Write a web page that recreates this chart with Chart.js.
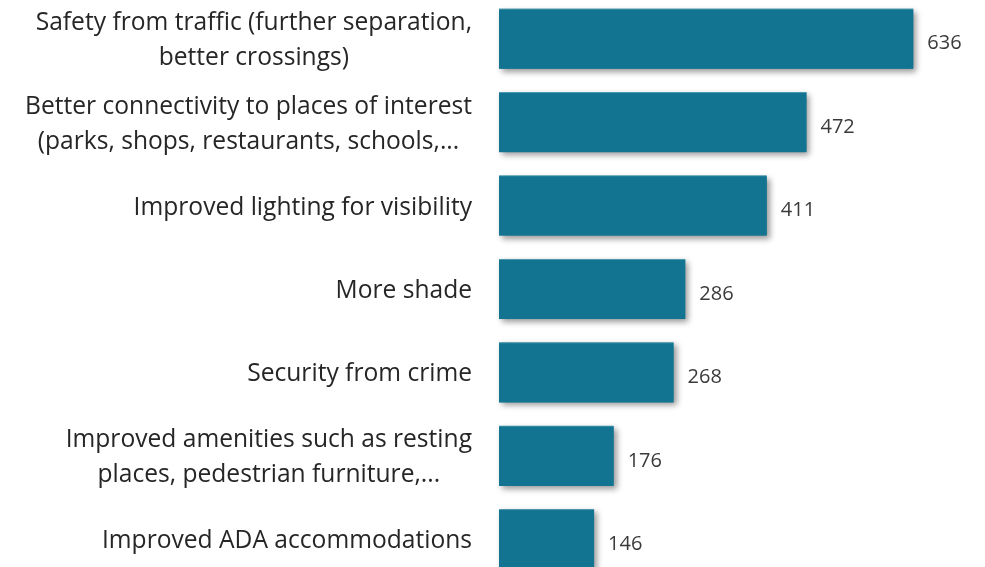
<!DOCTYPE html>
<html>
<head>
<meta charset="utf-8">
<script src="https://cdn.jsdelivr.net/npm/chart.js@4/dist/chart.umd.min.js"></script>
<style>
  html, body { margin: 0; padding: 0; background: #ffffff; overflow: hidden; }
  #wrap { position: absolute; left: 0; top: -3px; width: 985px; height: 584px; }
</style>
</head>
<body>
<div id="wrap"><canvas id="c" width="985" height="584"></canvas></div>
<script>
const categories = [
  ["Safety from traffic (further separation,", "better crossings)"],
  ["Better connectivity to places of interest", "(parks, shops, restaurants, schools,..."],
  ["Improved lighting for visibility"],
  ["More shade"],
  ["Security from crime"],
  ["Improved amenities such as resting", "places, pedestrian furniture,..."],
  ["Improved ADA accommodations"]
];
const values = [636, 472, 411, 286, 268, 176, 146];

const FONT = '"Open Sans", "Noto Sans", sans-serif';
const BAR_COLOR = '#137491';

const shadowPlugin = {
  id: 'barShadow',
  beforeDatasetsDraw(chart) {
    const ctx = chart.ctx;
    const meta = chart.getDatasetMeta(0);
    ctx.save();
    ctx.shadowColor = 'rgba(0,0,0,0.40)';
    ctx.shadowBlur = 6;
    ctx.shadowOffsetX = 3;
    ctx.shadowOffsetY = 3;
    ctx.fillStyle = BAR_COLOR;
    meta.data.forEach(bar => {
      const p = bar.getProps(['x', 'y', 'base', 'height'], true);
      ctx.fillRect(p.base, p.y - p.height / 2, p.x - p.base, p.height);
    });
    ctx.restore();
  }
};

const labelPlugin = {
  id: 'labels',
  afterDraw(chart) {
    const ctx = chart.ctx;
    const yScale = chart.scales.y;
    const meta = chart.getDatasetMeta(0);
    ctx.save();
    ctx.font = '24.6px ' + FONT;
    ctx.fillStyle = '#262626';
    ctx.textBaseline = 'middle';
    ctx.textAlign = 'center';
    const rightEdge = chart.chartArea.left - 27;
    const lh = 35;
    categories.forEach((lines, i) => {
      const yc = yScale.getPixelForValue(i) + 2;
      const widest = Math.max(...lines.map(l => ctx.measureText(l).width));
      const cx = rightEdge - widest / 2;
      const y0 = yc - (lines.length - 1) * lh / 2;
      lines.forEach((l, k) => ctx.fillText(l, cx, y0 + k * lh));
    });
    ctx.font = '20px ' + FONT;
    ctx.fillStyle = '#3a3a3a';
    ctx.textAlign = 'left';
    meta.data.forEach((bar, i) => {
      ctx.fillText(String(values[i]), bar.x + 14, bar.y + 5);
    });
    ctx.restore();
  }
};

new Chart(document.getElementById('c'), {
  type: 'bar',
  data: {
    labels: categories.map(l => l.join(' ')),
    datasets: [{
      data: values,
      backgroundColor: BAR_COLOR,
      borderColor: '#4c9ab1',
      borderWidth: { top: 1, left: 0, right: 0, bottom: 0 },
      borderSkipped: false,
      categoryPercentage: 1.0,
      barPercentage: 0.72
    }]
  },
  options: {
    indexAxis: 'y',
    responsive: false,
    animation: false,
    devicePixelRatio: 1,
    layout: { padding: { left: 0, right: 0, top: 0, bottom: 0 } },
    plugins: { legend: { display: false }, tooltip: { enabled: false } },
    scales: {
      x: { display: false, min: 0, max: 746 },
      y: {
        display: true,
        border: { display: false },
        grid: { display: false, drawTicks: false },
        ticks: { display: false },
        afterFit(scale) { scale.width = 499; }
      }
    }
  },
  plugins: [shadowPlugin, labelPlugin]
});
</script>
</body>
</html>
